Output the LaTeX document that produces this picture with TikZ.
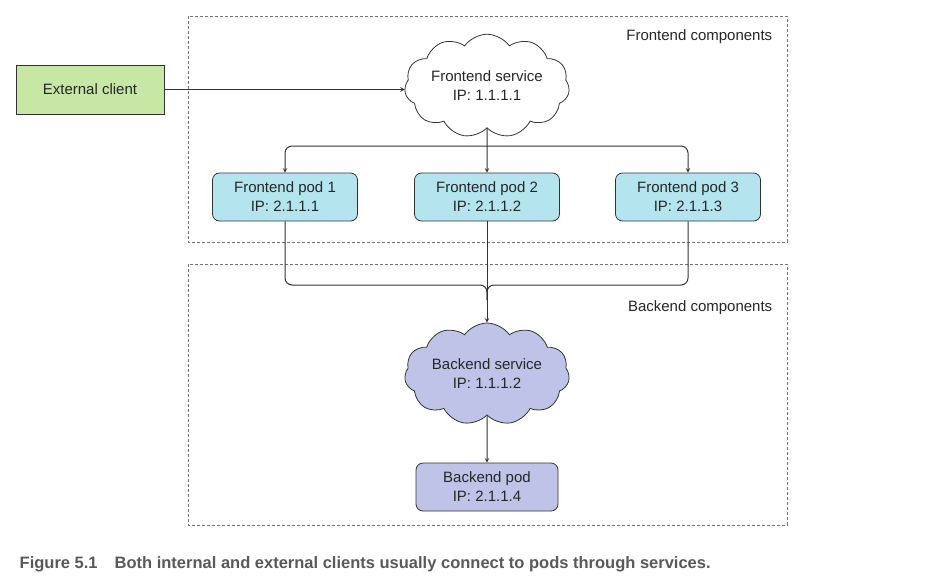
\documentclass[tikz,border=0pt]{standalone}
\usepackage{fontspec}
\setmainfont{Liberation Sans}
\usepackage{xcolor}
\usepackage{tikz}
\usetikzlibrary{shapes.symbols, arrows, positioning}
\definecolor{clientgreen}{HTML}{C6E8A4}
\definecolor{podcyan}{HTML}{B4E5EF}
\definecolor{backlilac}{HTML}{BFC3E8}
\definecolor{edgegray}{HTML}{333333}
\tikzstyle{client}  = [rectangle, minimum width=148pt, minimum height=49pt, text centered, draw=edgegray, fill=clientgreen]
\tikzstyle{service} = [cloud, cloud puffs=11, cloud puff arc=110, aspect=1.8, inner sep=-2pt, minimum width=165pt, minimum height=92pt, text centered, draw=edgegray]
\tikzstyle{pod}     = [rectangle, rounded corners=7pt, minimum width=145pt, minimum height=48pt, text centered, draw=edgegray]
\tikzstyle{group}   = [draw=gray!90!black, dash pattern=on 3pt off 2pt]
\tikzstyle{arrow}   = [->,>=stealth, draw=edgegray, line width=1pt]
\tikzstyle{line}    = [draw=edgegray, line width=1pt]
\tikzset{every node/.style={align=center, font=\fontsize{15}{19}\selectfont, text=black!85}}

\begin{document}
\begin{tikzpicture}[x=1pt, y=-1pt, line width=0.8pt]
    \useasboundingbox (0,0) rectangle (944,587);
    \draw [group] (188,16) rectangle (787,242);
    \draw [group] (188,264) rectangle (787,525);
    \node (fcl) [anchor=north east] at (776,26) {Frontend components};
    \node (bcl) [anchor=north east] at (776,297) {Backend components};

    \node (ext) [client] at (90,89.5) {External client};
    \node (fs)  [service] at (487,86) {Frontend service\\IP: 1.1.1.1};
    \node (p1)  [pod, fill=podcyan] at (285,197) {Frontend pod 1\\IP: 2.1.1.1};
    \node (p2)  [pod, fill=podcyan] at (487,197) {Frontend pod 2\\IP: 2.1.1.2};
    \node (p3)  [pod, fill=podcyan] at (688,197) {Frontend pod 3\\IP: 2.1.1.3};
    \node (bs)  [service, fill=backlilac] at (487,374) {Backend service\\IP: 1.1.1.2};
    \node (bp)  [pod, fill=backlilac, minimum width=142pt] at (487,487) {Backend pod\\IP: 2.1.1.4};

    \coordinate (fork) at (487,146);
    \coordinate (join) at (487,285);
    \coordinate (below) at (487,300);

    \draw [arrow] (ext) -- (ext -| fs.west);
    \draw [arrow] (fs) -- (p2);
    \draw [arrow, rounded corners=7pt] (fork) -| (p1);
    \draw [arrow, rounded corners=7pt] (fork) -| (p3);
    \draw [line, rounded corners=7pt] (p1) |- (join) -- (below);
    \draw [line, rounded corners=7pt] (p3) |- (join) -- (below);
    \draw [arrow] (p2) -- (bs);
    \draw [arrow] (bs) -- (bp);

    \node (cap) [anchor=base west, font=\fontsize{16.5}{19}\selectfont\bfseries, text=black!65] at (16,568)
        {Figure 5.1\hspace{17pt}Both internal and external clients usually connect to pods through services.};
\end{tikzpicture}
\end{document}
